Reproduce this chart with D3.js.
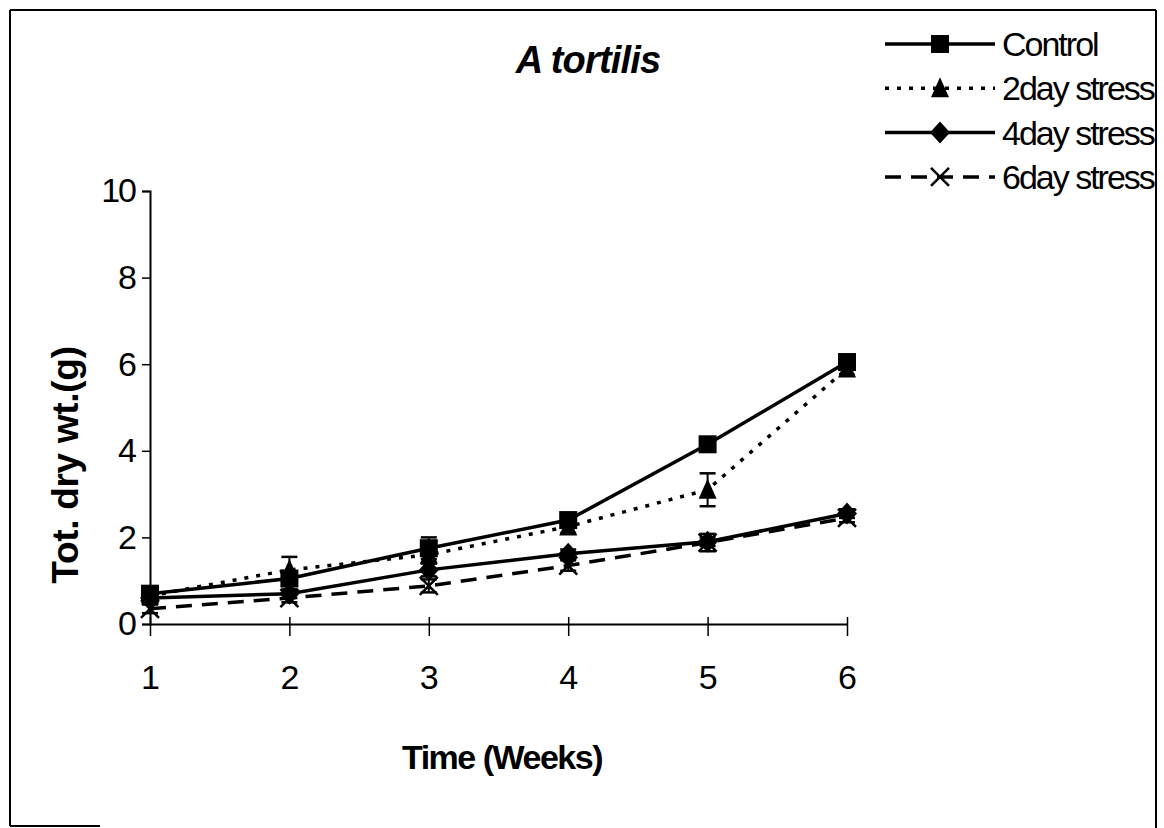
<!DOCTYPE html>
<html>
<head>
<meta charset="utf-8">
<script src="https://cdn.jsdelivr.net/npm/d3@7"></script>
<style>
  body { margin: 0; background: #fff; }
  svg { font-family: "Liberation Sans", Arial, sans-serif; }
</style>
</head>
<body>
<div id="chart"></div>
<script>
// data
const weeks = [1, 2, 3, 4, 5, 6];
const seriesNames = ['Control', '2day stress', '4day stress', '6day stress'];
const controlValues = [0.70, 1.05, 1.75, 2.40, 4.15, 6.05];
const stress2Values = [0.65, 1.25, 1.60, 2.25, 3.10, 5.90];
const stress4Values = [0.60, 0.70, 1.25, 1.62, 1.90, 2.55];
const stress6Values = [0.35, 0.60, 0.88, 1.35, 1.88, 2.45];
const controlErrors = [0.15, 0.10, 0.25, 0.15, 0.10, 0.15];
const stress2Errors = [0.10, 0.30, 0.20, 0.15, 0.38, 0.15];
const stress4Errors = [0.10, 0.10, 0.15, 0.10, 0.10, 0.10];
const stress6Errors = [0.10, 0.10, 0.15, 0.12, 0.20, 0.10];
const yTicks = [0, 2, 4, 6, 8, 10];

const width = 1164;
const height = 828;

const svg = d3.select('#chart').append('svg')
    .attr('width', width)
    .attr('height', height);

// outer frame (bottom edge only partly visible in the scan)
const frame = svg.append('g').attr('stroke', '#000').attr('stroke-width', 2);
frame.append('line').attr('x1', 10).attr('y1', 10).attr('x2', 1156).attr('y2', 10);
frame.append('line').attr('x1', 10).attr('y1', 10).attr('x2', 10).attr('y2', 826);
frame.append('line').attr('x1', 1156).attr('y1', 10).attr('x2', 1156).attr('y2', 828);
frame.append('line').attr('x1', 10).attr('y1', 826).attr('x2', 100).attr('y2', 826);

const x = d3.scaleLinear().domain([1, 6]).range([150, 847]);
const y = d3.scaleLinear().domain([0, 10]).range([624, 191]);

// y axis
const yAxis = svg.append('g')
    .attr('transform', `translate(${x(1)},0)`)
    .call(d3.axisLeft(y).tickValues(yTicks).tickFormat(d3.format('d')).tickSize(8).tickPadding(7))
    .attr('font-family', null);
yAxis.select('.domain').attr('stroke-width', 2);
yAxis.selectAll('.tick line').attr('stroke-width', 1.5);
yAxis.selectAll('.tick text')
    .attr('font-size', 34)
    .attr('fill', '#000')
    .attr('letter-spacing', -2);

// x axis, ticks crossing the line
const xAxis = svg.append('g')
    .attr('transform', `translate(0,${y(0)})`)
    .call(d3.axisBottom(x).tickValues(weeks).tickFormat(d3.format('d')).tickSize(12).tickPadding(29).tickSizeOuter(0))
    .attr('font-family', null);
xAxis.select('.domain').attr('stroke-width', 2);
xAxis.selectAll('.tick line').attr('y1', -7).attr('stroke-width', 1.5);
xAxis.selectAll('.tick text')
    .attr('font-size', 34)
    .attr('fill', '#000');

// titles
svg.append('text')
    .attr('x', 588).attr('y', 73)
    .attr('text-anchor', 'middle')
    .attr('font-size', 38)
    .attr('font-weight', 'bold')
    .attr('font-style', 'italic')
    .attr('letter-spacing', -0.8)
    .text('A tortilis');

svg.append('text')
    .attr('x', 502).attr('y', 769)
    .attr('text-anchor', 'middle')
    .attr('font-size', 34)
    .attr('font-weight', 'bold')
    .attr('letter-spacing', -1.5)
    .text('Time (Weeks)');

svg.append('text')
    .attr('transform', 'translate(78,465) rotate(-90)')
    .attr('text-anchor', 'middle')
    .attr('font-size', 37)
    .attr('font-weight', 'bold')
    .attr('letter-spacing', -0.3)
    .text('Tot. dry wt.(g)');

const series = [
    { name: seriesNames[0], values: controlValues, errors: controlErrors, dash: null, marker: 'square' },
    { name: seriesNames[1], values: stress2Values, errors: stress2Errors, dash: '4,8', marker: 'triangle' },
    { name: seriesNames[2], values: stress4Values, errors: stress4Errors, dash: null, marker: 'diamond' },
    { name: seriesNames[3], values: stress6Values, errors: stress6Errors, dash: '16,10', marker: 'x' }
];

function drawMarker(g, type, cx, cy) {
    if (type === 'square') {
        g.append('rect').attr('x', cx - 9).attr('y', cy - 9).attr('width', 18).attr('height', 18).attr('fill', '#000');
    } else if (type === 'triangle') {
        g.append('path').attr('d', `M${cx},${cy - 11}L${cx + 9},${cy + 9}L${cx - 9},${cy + 9}Z`).attr('fill', '#000');
    } else if (type === 'diamond') {
        g.append('path').attr('d', `M${cx},${cy - 11}L${cx + 10},${cy}L${cx},${cy + 11}L${cx - 10},${cy}Z`).attr('fill', '#000');
    } else {
        g.append('path').attr('d', `M${cx - 9},${cy - 9}L${cx + 9},${cy + 9}M${cx + 9},${cy - 9}L${cx - 9},${cy + 9}`)
            .attr('stroke', '#000').attr('stroke-width', 2.5);
    }
}

const line = d3.line()
    .x((d, i) => x(weeks[i]))
    .y(d => y(d));

const plot = svg.append('g');

series.forEach(s => {
    const g = plot.append('g');
    g.append('path')
        .datum(s.values)
        .attr('d', line)
        .attr('fill', 'none')
        .attr('stroke', '#000')
        .attr('stroke-width', 3.5)
        .attr('stroke-dasharray', s.dash);

    // error bars
    s.values.forEach((v, i) => {
        const cx = x(weeks[i]);
        const top = y(v + s.errors[i]);
        const bot = y(v - s.errors[i]);
        g.append('line').attr('x1', cx).attr('x2', cx).attr('y1', top).attr('y2', bot)
            .attr('stroke', '#000').attr('stroke-width', 2);
        [top, bot].forEach(yy => {
            g.append('line').attr('x1', cx - 8).attr('x2', cx + 8).attr('y1', yy).attr('y2', yy)
                .attr('stroke', '#000').attr('stroke-width', 2.5);
        });
        drawMarker(g, s.marker, cx, y(v));
    });
});

// legend
const legend = svg.append('g');
series.forEach((s, i) => {
    const ly = 44 + i * 44.3;
    legend.append('line')
        .attr('x1', 885).attr('x2', 995).attr('y1', ly).attr('y2', ly)
        .attr('stroke', '#000').attr('stroke-width', 3.5)
        .attr('stroke-dasharray', s.dash);
    drawMarker(legend, s.marker, 940, ly);
    legend.append('text')
        .attr('x', 1002).attr('y', ly + 12)
        .attr('font-size', 34)
        .attr('letter-spacing', -2)
        .text(s.name);
});
</script>
</body>
</html>
